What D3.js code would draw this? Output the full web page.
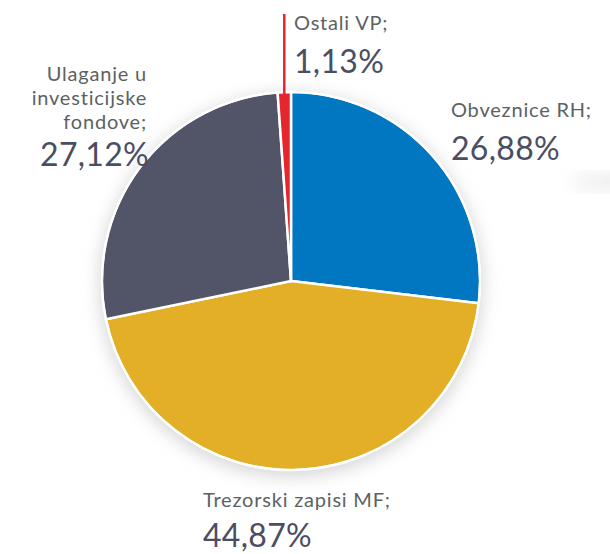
<!DOCTYPE html>
<html>
<head>
<meta charset="utf-8">
<script src="https://cdn.jsdelivr.net/npm/d3@7"></script>
<style>
  body { margin: 0; background: #fff; }
  svg { display: block; }
  .lbl { font-family: Lato, 'Noto Sans', sans-serif; fill: #5b6264; font-size: 20px; letter-spacing: 0.8px; }
  .pct { font-family: Lato, 'Noto Sans', sans-serif; fill: #4b4e63; font-size: 32px; letter-spacing: 0.3px; }
</style>
</head>
<body>
<div id="chart"></div>
<script>
// slice data, clockwise from 12 o'clock
const categories = ['Obveznice RH', 'Trezorski zapisi MF', 'Ulaganje u investicijske fondove', 'Ostali VP']
const values = [26.88, 44.87, 27.12, 1.13]
const valueLabels = ['26,88%', '44,87%', '27,12%', '1,13%']
const colors = ['#0077c0', '#e2af26', '#525467', '#e4262e']

const WIDTH = 610
const HEIGHT = 554
const CX = 291
const CY = 281
const RADIUS = 189

const svg = d3.select('#chart')
  .append('svg')
  .attr('width', WIDTH)
  .attr('height', HEIGHT)

const defs = svg.append('defs')
defs.append('filter')
  .attr('id', 'shadow')
  .attr('x', '-30%').attr('y', '-30%')
  .attr('width', '160%').attr('height', '160%')
  .append('feGaussianBlur')
  .attr('stdDeviation', 9)

// faint smudge at right edge
svg.append('ellipse')
  .attr('cx', 640).attr('cy', 182)
  .attr('rx', 70).attr('ry', 7)
  .attr('fill', '#e6e6e6')
  .attr('filter', 'url(#shadow)')

const g = svg.append('g')
  .attr('transform', 'translate(' + CX + ',' + CY + ')')

// soft shadow behind the pie
g.append('circle')
  .attr('r', RADIUS + 2)
  .attr('cy', 4)
  .attr('fill', '#d4d4d4')
  .attr('filter', 'url(#shadow)')

const pie = d3.pie().sort(null).value(d => d)
const arcs = pie(values)
const arc = d3.arc().innerRadius(0).outerRadius(RADIUS)

g.selectAll('path.slice')
  .data(arcs)
  .enter()
  .append('path')
  .attr('class', 'slice')
  .attr('d', arc)
  .attr('fill', (d, i) => colors[i])
  .attr('stroke', '#fff')
  .attr('stroke-width', 2.5)
  .attr('stroke-linejoin', 'round')

// white rim
g.append('circle')
  .attr('r', RADIUS)
  .attr('fill', 'none')
  .attr('stroke', '#fff')
  .attr('stroke-width', 2)

// leader line for the small slice
const small = arcs[3]
const mid = (small.startAngle + small.endAngle) / 2
const lx = RADIUS * Math.sin(mid)
const ly = -RADIUS * Math.cos(mid)
g.append('line')
  .attr('x1', lx).attr('y1', ly + 6)
  .attr('x2', lx).attr('y2', 14 - CY)
  .attr('stroke', colors[3])
  .attr('stroke-width', 2.5)

// labels (name lines, anchor, x, name baseline, percent baseline)
const labelLayout = [
  { lines: ['Obveznice RH;'], anchor: 'start', x: 451, y: 117, py: 160 },
  { lines: ['Trezorski zapisi MF;'], anchor: 'start', x: 203, y: 507, py: 547 },
  { lines: ['Ulaganje u', 'investicijske', 'fondove;'], anchor: 'end', x: 147, y: 81, py: 166 },
  { lines: ['Ostali VP;'], anchor: 'start', x: 294, y: 30, py: 73 }
]

labelLayout.forEach(function (l, i) {
  const t = svg.append('text')
    .attr('class', 'lbl')
    .attr('text-anchor', l.anchor)
  l.lines.forEach(function (s, j) {
    t.append('tspan')
      .attr('x', l.x)
      .attr('y', l.y + j * 24)
      .text(s)
  })
  svg.append('text')
    .attr('class', 'pct')
    .attr('text-anchor', l.anchor)
    .attr('x', l.anchor === 'end' ? l.x + 2 : l.x)
    .attr('y', l.py)
    .text(valueLabels[i])
})
</script>
</body>
</html>
